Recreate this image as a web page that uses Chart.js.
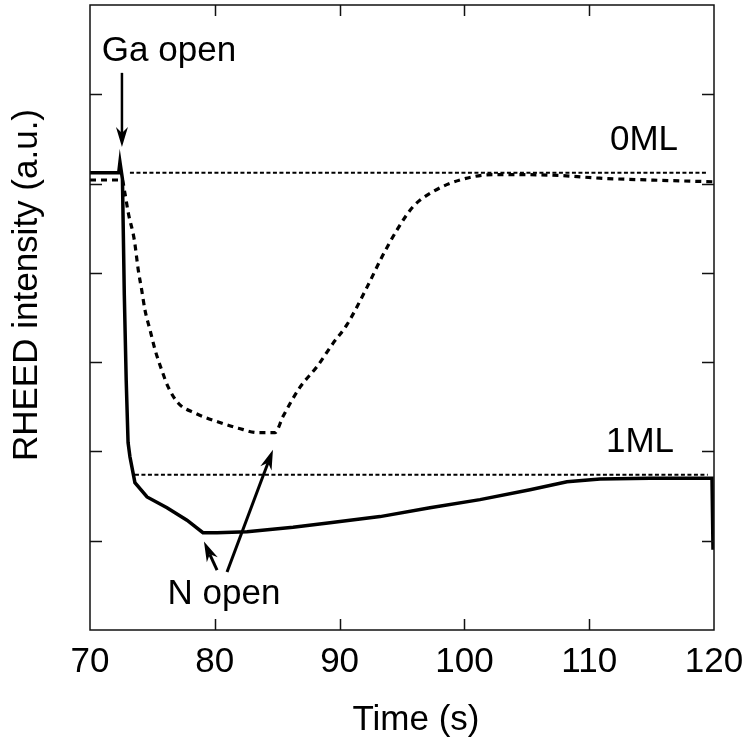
<!DOCTYPE html>
<html>
<head>
<meta charset="utf-8">
<script src="https://cdn.jsdelivr.net/npm/chart.js@4.4.0/dist/chart.umd.min.js"></script>
<style>
  html, body { margin: 0; padding: 0; background: #fff; }
  #wrap { width: 745px; height: 739px; }
</style>
</head>
<body>
<div id="wrap"><canvas id="rheed"></canvas></div>
<script>
const xTicks = [70, 80, 90, 100, 110, 120];
const yTicks = [0, 1, 2, 3, 4, 5, 6, 7];

// solid trace
const solidTime = [70, 72.3, 72.4, 72.6, 72.75, 72.9, 73.05, 73.2, 73.6, 74.57, 76.17, 77.77, 79.05,
  80.18, 82.58, 86.27, 89.23, 93.24, 97.24, 101.25, 105.26, 108.22, 110.87, 114.87, 119.84, 119.92];
const solidInt = [5.12, 5.12, 5.24, 5.05, 3.75, 2.8, 2.1, 1.94, 1.65, 1.49, 1.37, 1.23, 1.09,
  1.09, 1.10, 1.15, 1.20, 1.27, 1.37, 1.46, 1.57, 1.66, 1.69, 1.70, 1.70, 0.90];

// dashed trace
const dashTime = [70, 72.4, 72.56, 72.8, 73.07, 73.55, 73.87, 74.14, 74.41, 74.81, 75.21, 75.75, 76.27,
  77.08, 78.41, 80.28, 81.88, 83.49, 84.82, 85.46, 86.83, 88.19, 89.47, 90.59, 92.2, 93.4, 94.6,
  95.88, 97.48, 99.65, 102.29, 104.45, 107.66, 110.87, 114.87, 120];
const dashInt = [5.04, 5.04, 5.05, 4.89, 4.67, 4.37, 4.03, 3.81, 3.58, 3.36, 3.14, 2.91, 2.72,
  2.54, 2.43, 2.33, 2.26, 2.21, 2.21, 2.39, 2.72, 2.95, 3.21, 3.42, 3.84, 4.18, 4.48,
  4.74, 4.91, 5.04, 5.10, 5.10, 5.09, 5.06, 5.04, 5.02];

// reference levels
const level0ML = 5.12;
const level1ML = 1.74;
const level0Span = [73.2, 119.5];
const level1Span = [73.6, 119.5];

// annotations (data coordinates)
const notes = [
  { text: "Ga open", t: 76.33, v: 6.37 },
  { text: "0ML", t: 114.39, v: 5.38 },
  { text: "1ML", t: 114.07, v: 1.99 },
  { text: "N open", t: 80.74, v: 0.29 }
];
const arrows = [
  { from: [72.56, 6.24], to: [72.56, 5.41], w: 2.5 },
  { from: [80.98, 0.65], to: [84.66, 2.02], w: 3 },
  { from: [80.18, 0.67], to: [79.13, 0.99], w: 3 }
];

const FONT = '35px "Liberation Sans", Arial, Helvetica, sans-serif';

const toXY = (ts, vs) => ts.map((t, i) => ({ x: t, y: vs[i] }));

const decor = {
  id: "decor",
  afterDatasetsDraw(chart) {
    const { ctx, chartArea: a, scales: { x, y } } = chart;
    ctx.save();
    ctx.strokeStyle = "#111";
    ctx.lineWidth = 1.5;
    ctx.strokeRect(a.left, a.top, a.right - a.left, a.bottom - a.top);

    // inward ticks on all four sides
    ctx.beginPath();
    xTicks.slice(1, -1).forEach(t => {
      const px = Math.round(x.getPixelForValue(t)) + 0.5;
      ctx.moveTo(px, a.bottom); ctx.lineTo(px, a.bottom - 11);
      ctx.moveTo(px, a.top); ctx.lineTo(px, a.top + 11);
    });
    yTicks.slice(1, -1).forEach(v => {
      const py = Math.round(y.getPixelForValue(v)) + 0.5;
      ctx.moveTo(a.left, py); ctx.lineTo(a.left + 12, py);
      ctx.moveTo(a.right, py); ctx.lineTo(a.right - 12, py);
    });
    ctx.stroke();

    // arrows
    ctx.strokeStyle = "#000";
    ctx.fillStyle = "#000";
    arrows.forEach(ar => {
      const x1 = x.getPixelForValue(ar.from[0]), y1 = y.getPixelForValue(ar.from[1]);
      const x2 = x.getPixelForValue(ar.to[0]), y2 = y.getPixelForValue(ar.to[1]);
      const ang = Math.atan2(y2 - y1, x2 - x1);
      const len = 20, half = 6;
      const bx = x2 - len * Math.cos(ang), by = y2 - len * Math.sin(ang);
      ctx.lineWidth = ar.w;
      ctx.beginPath();
      ctx.moveTo(x1, y1);
      ctx.lineTo(bx + 6 * Math.cos(ang), by + 6 * Math.sin(ang));
      ctx.stroke();
      ctx.beginPath();
      ctx.moveTo(x2, y2);
      ctx.lineTo(bx - half * Math.sin(ang), by + half * Math.cos(ang));
      ctx.lineTo(bx + 6 * Math.cos(ang), by + 6 * Math.sin(ang));
      ctx.lineTo(bx + half * Math.sin(ang), by - half * Math.cos(ang));
      ctx.closePath();
      ctx.fill();
    });

    // annotation text
    ctx.font = FONT;
    ctx.textAlign = "center";
    ctx.textBaseline = "alphabetic";
    notes.forEach(n => {
      ctx.fillText(n.text, x.getPixelForValue(n.t), y.getPixelForValue(n.v));
    });

    // axis titles
    ctx.fillText("Time (s)", 416, 730);
    ctx.translate(37, 285);
    ctx.rotate(-Math.PI / 2);
    ctx.fillText("RHEED intensity (a.u.)", 0, 0);
    ctx.restore();
  }
};

new Chart(document.getElementById("rheed"), {
  type: "line",
  data: {
    datasets: [
      {
        label: "1ML",
        data: toXY(level1Span, [level1ML, level1ML]),
        borderColor: "#000", borderWidth: 2, borderDash: [4, 2.5],
        pointRadius: 0
      },
      {
        label: "0ML",
        data: toXY(level0Span, [level0ML, level0ML]),
        borderColor: "#000", borderWidth: 2, borderDash: [4, 2.5],
        pointRadius: 0
      },
      {
        label: "dashed",
        data: toXY(dashTime, dashInt),
        borderColor: "#000", borderWidth: 3.2, borderDash: [6, 5],
        pointRadius: 0, cubicInterpolationMode: "monotone"
      },
      {
        label: "solid",
        data: toXY(solidTime, solidInt),
        borderColor: "#000", borderWidth: 3.5,
        pointRadius: 0, tension: 0
      }
    ]
  },
  options: {
    responsive: true,
    maintainAspectRatio: false,
    animation: false,
    layout: { padding: { top: 5, right: 31, left: 0, bottom: 0 } },
    plugins: { legend: { display: false }, tooltip: { enabled: false } },
    scales: {
      x: {
        type: "linear",
        min: 70, max: 120,
        afterBuildTicks: s => { s.ticks = xTicks.map(v => ({ value: v })); },
        afterFit: s => { s.height = 109; s.paddingLeft = 0; s.paddingRight = 0; },
        grid: { display: false },
        border: { display: false },
        ticks: { color: "#000", font: { family: '"Liberation Sans", Arial, sans-serif', size: 35 }, padding: 3, maxRotation: 0 }
      },
      y: {
        min: 0, max: 7,
        afterBuildTicks: s => { s.ticks = yTicks.map(v => ({ value: v })); },
        afterFit: s => { s.width = 90; s.paddingTop = 0; s.paddingBottom = 0; },
        grid: { display: false },
        border: { display: false },
        ticks: { display: false }
      }
    }
  },
  plugins: [decor]
});
</script>
</body>
</html>
